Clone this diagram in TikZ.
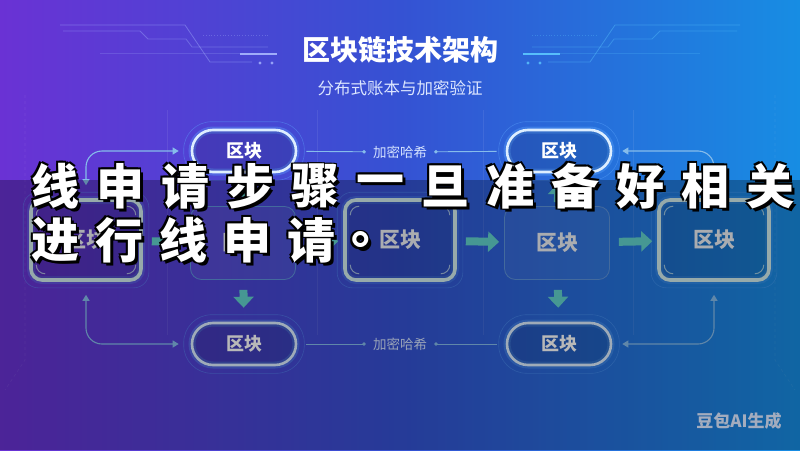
\documentclass[tikz,border=0pt]{standalone}
\usepackage{fontspec}
\newfontfamily\cjk{Noto Sans CJK SC}
\usetikzlibrary{arrows.meta,positioning}
\definecolor{bgl}{HTML}{6A32D4}
\definecolor{bgm}{HTML}{3552D3}
\definecolor{bgr}{HTML}{178DE3}
\definecolor{pillc}{HTML}{DDEEFF}
\definecolor{glowc}{HTML}{5FA8FF}
\definecolor{framec}{HTML}{D2ECEC}
\definecolor{plainc}{HTML}{5E93DA}
\definecolor{arrc}{HTML}{62D2CC}
\definecolor{linkc}{HTML}{86BCEB}
\definecolor{blocktxt}{HTML}{ECEFF5}
\definecolor{hashc}{HTML}{D4E2FF}
\definecolor{subc}{HTML}{DCE6FF}
\definecolor{wmc}{HTML}{A3ACBE}
\definecolor{decoL}{HTML}{A9B8FF}
\definecolor{decoR}{HTML}{5CC8FF}
\begin{document}
\begin{tikzpicture}[x=1pt,y=-1pt,
  every node/.style={font=\cjk},
  pill/.style={draw=pillc,line width=2.6pt,rounded corners=21pt,minimum width=104pt,minimum height=42pt,
    fill=black,fill opacity=0.12,text opacity=1,text=white,font=\cjk\bfseries\fontsize{18}{18}\selectfont,
    preaction={draw=glowc,line width=7pt,draw opacity=0.35}},
  ring/.style={draw=glowc,line width=0.6pt,draw opacity=0.4},
  hiblock/.style={draw=framec,line width=3.6pt,rounded corners=11pt,minimum width=110pt,minimum height=80pt,
    fill=black,fill opacity=0.1,text opacity=1,text=blocktxt,font=\cjk\bfseries\fontsize{21}{21}\selectfont,
    preaction={draw=glowc,line width=8pt,draw opacity=0.25}},
  plainblock/.style={draw=plainc,line width=0.8pt,rounded corners=11pt,minimum width=105pt,minimum height=73pt,
    fill=white,fill opacity=0.05,text opacity=1,text=blocktxt,font=\cjk\bfseries\fontsize{21}{21}\selectfont},
  blockarr/.style={draw=arrc,line width=8pt,-{Triangle[width=20pt,length=11pt]},shorten <=9pt,shorten >=5pt},
  link/.style={draw=linkc,line width=1.1pt,rounded corners=16pt,>={Triangle[width=7pt,length=6pt]},<->,
    shorten <=13pt,shorten >=12pt},
  hashline/.style={draw=linkc,line width=0.9pt,-{Circle[length=3.5pt]},shorten <=9pt,shorten >=5pt},
  hash/.style={text=hashc,font=\cjk\fontsize{13.5}{13.5}\selectfont,inner sep=2pt},
  bracket/.style={draw=framec,line width=1pt,draw opacity=0.7},
  grid/.style={draw=white,line width=0.6pt,draw opacity=0.08},
  captext/.style={text=white,font=\cjk\bfseries\fontsize{48}{48}\selectfont,inner sep=0pt},
  capshade/.style={captext,text=black}]
\shade[left color=bgl,right color=bgr,middle color=bgm] (0,0) rectangle (800,450);
\useasboundingbox (0,0) rectangle (800,450);
\foreach \s/\o/\col in {1/0/decoL,-1/800/decoR}{
  \begin{scope}[xshift=\o pt,xscale=\s,draw=\col,line width=0.8pt]
    \draw[draw opacity=0.4] (60,25) -- (185,25) -- (210,62) -- (252,62);
    \draw[draw opacity=0.35] (63,31) -- (140,31) -- (148,39) -- (186,39) -- (192,47) -- (268,47);
    \draw[draw opacity=0.2] (100,53) -- (240,53);
    \draw[draw opacity=0.9,line width=2pt] (240,54) -- (277,54);
    \draw[draw opacity=0.3,dotted] (203,35) -- (270,35);
    \fill[\col,opacity=0.8] (260,63) circle (1.6pt) (272,63) circle (1.6pt);
  \end{scope}}
\node[font=\cjk\bfseries\fontsize{28}{28}\selectfont,text=white] (title) at (400,50) {区块链技术架构};
\node[font=\cjk\fontsize{16.5}{16.5}\selectfont,text=subc] (subtitle) at (400,88) {分布式账本与加密验证};
\foreach \gx in {167,317,483,633}
  \draw[grid] (\gx,110) -- (\gx,335);
\draw[grid,dashed] (25,95) -- (25,360) -- (5,390);
\draw[grid,dashed] (775,95) -- (775,360) -- (795,390);
\node[pill] (t1) at (244,151) {区块};
\node[pill] (t2) at (559,151) {区块};
\node[pill] (b1) at (244,344) {区块};
\node[pill] (b2) at (559,344) {区块};
\node[hash] (h1) at (400,152) {加密哈希};
\node[hash] (h2) at (400,344) {加密哈希};
\node[hiblock] (m1) at (86,240) {区块};
\node[plainblock] (m2) at (243,243) {区块};
\node[hiblock] (m3) at (400,240) {区块};
\node[plainblock] (m4) at (557,243) {区块};
\node[hiblock] (m5) at (714,240) {区块};
\foreach \n in {t1,t2,b1,b2}
  \draw[ring,rounded corners=28pt] ([shift={(-7pt,7pt)}]\n.north west) rectangle ([shift={(7pt,-7pt)}]\n.south east);
\foreach \n in {m1,m3,m5}{
  \draw[ring,rounded corners=15pt] ([shift={(-6pt,6pt)}]\n.north west) rectangle ([shift={(6pt,-6pt)}]\n.south east);
  \draw[bracket] ([shift={(7pt,-17pt)}]\n.north west) arc[start angle=180,end angle=90,radius=9pt];
  \draw[bracket] ([shift={(-16pt,-8pt)}]\n.north east) arc[start angle=90,end angle=0,radius=9pt];
  \draw[bracket] ([shift={(-7pt,17pt)}]\n.south east) arc[start angle=0,end angle=-90,radius=9pt];
  \draw[bracket] ([shift={(16pt,8pt)}]\n.south west) arc[start angle=-90,end angle=-180,radius=9pt];}
\draw[blockarr] (m1) -- (m2);
\draw[blockarr] (m2) -- (m3);
\draw[blockarr] (m3) -- (m4);
\draw[blockarr] (m4) -- (m5);
\draw[blockarr,shorten <=7pt,shorten >=8pt] (t1) -- (m2);
\draw[blockarr,shorten <=10pt,shorten >=14pt] (m2) -- (b1);
\draw[blockarr,shorten <=4pt,shorten >=10pt] (m4) -- (t2);
\draw[blockarr,shorten <=10pt,shorten >=14pt] (m4) -- (b2);
\draw[link] (m1.north) |- (t1.west);
\draw[link] (m1.south) |- (b1.west);
\draw[link,shorten >=10pt] (m5.north) |- (t2.east);
\draw[link,shorten >=10pt] (m5.south) |- (b2.east);
\draw[hashline] (t1) -- (h1);
\draw[hashline] (t2) -- (h1);
\draw[hashline] (b1) -- (h2);
\draw[hashline] (b2) -- (h2);
\fill[black,opacity=0.28] (0,180) rectangle (800,450);
\foreach \c [count=\i] in {线,申,请,步,骤,一,旦,准,备,好,相,关}{
  \foreach \dx/\dy [count=\k] in {-1.6/-1.6,1.6/-1.6,-1.6/1.6,1.6/1.6,3.2/3.2}
    \node[capshade] (sa\i-\k) at (55+65*\i-65+\dx,186+\dy) {\c};
  \node[captext] (ca\i) at (55+65*\i-65,186) {\c};}
\foreach \c [count=\i] in {进,行,线,申,请,。}{
  \foreach \dx/\dy [count=\k] in {-1.6/-1.6,1.6/-1.6,-1.6/1.6,1.6/1.6,3.2/3.2}
    \node[capshade] (sb\i-\k) at (55+64*\i-64+\dx,240+\dy) {\c};
  \node[captext] (cb\i) at (55+64*\i-64,240) {\c};}
\node[font=\cjk\bfseries\fontsize{17}{17}\selectfont,text=wmc] (wm) at (739,421) {豆包AI生成};
\end{tikzpicture}
\end{document}
